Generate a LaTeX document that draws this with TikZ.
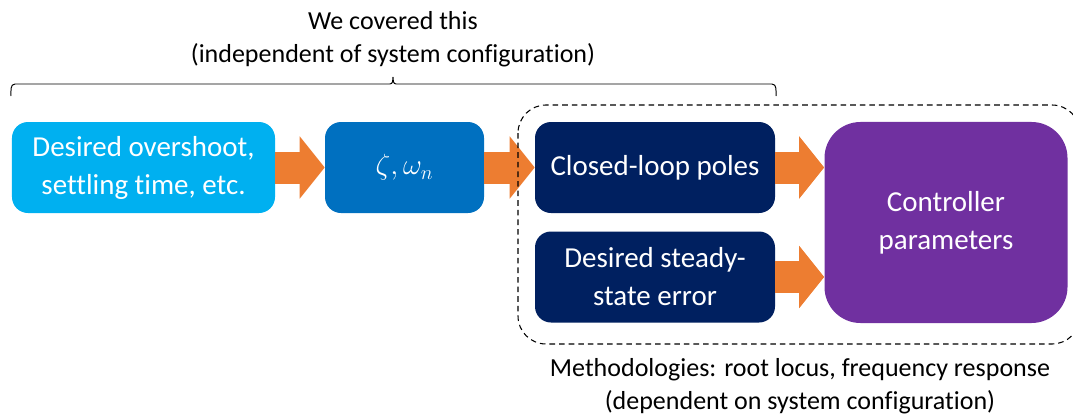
\documentclass[tikz,border=0pt]{standalone}
\usepackage{fontspec}
\setmainfont{Carlito}[Ligatures=NoCommon, RawFeature={-liga,-dlig}]
\usetikzlibrary{arrows.meta,positioning}
\definecolor{lightblue}{HTML}{00B0F0}
\definecolor{midblue}{HTML}{0070C0}
\definecolor{navy}{HTML}{002060}
\definecolor{violet}{HTML}{7030A0}
\definecolor{flow}{HTML}{ED7D31}
\tikzset{
  blk/.style={rounded corners=4mm, text=white, align=center, inner sep=0pt,
    minimum height=22.75mm, font=\fontsize{20.6}{27}\selectfont},
  fatarrow/.style={draw=flow, line width=8mm,
    -{Triangle[width=15.25mm,length=6.25mm]}},
  remark/.style={align=center, font=\fontsize{18.5}{23.5}\selectfont},
}
\begin{document}
\begin{tikzpicture}[x=0.25mm, y=-0.25mm]
  \useasboundingbox (0,0) rectangle (1073,414);
  % the chain of boxes
  \node[blk, fill=lightblue, minimum width=65.75mm] (spec) at (143.5,167.5)
    {Desired overshoot,\\settling time, etc.};
  \node[blk, fill=midblue, minimum width=39.75mm] (zeta) at (404.5,167.5)
    {$\zeta, \omega_n$};
  \node[blk, fill=navy, minimum width=60mm] (poles) at (655,167.5)
    {Closed-loop poles};
  \node[blk, fill=navy, minimum width=60mm] (sserr) at (655,277)
    {Desired steady-\\state error};
  \node[blk, fill=violet, rounded corners=9mm, minimum width=60.75mm,
    minimum height=50.25mm] (ctrl) at (946,222.5) {Controller\\parameters};
  % arrows
  \draw[fatarrow] (spec.east) -- (zeta.west);
  \draw[fatarrow] (zeta.east) -- (poles.west);
  \draw[fatarrow] (poles.east) -- (poles.east -| ctrl.west);
  \draw[fatarrow] (sserr.east) -- (sserr.east -| ctrl.west);
  % dashed group
  \draw[line width=0.75pt, dash pattern=on 1.4mm off 1mm,
    rounded corners=7mm] (518,105) rectangle (1080,344);
  % brace
  \coordinate (bl) at (11,96);
  \coordinate (br) at (776,96);
  \coordinate (bm) at (393,77);
  \draw[line width=0.7pt] (bl) to[out=90, in=180] (15,84) -- (390,84)
    to[out=0, in=-90] (bm) to[out=-90, in=180] (396,84) -- (772,84)
    to[out=0, in=90] (br);
  \node[remark] (covered) at (393,39)
    {We covered this\\(independent of system configuration)};
  \node[remark] (methods) at (800,386)
    {Methodologies: root locus, frequency response\\(dependent on system configuration)};
\end{tikzpicture}
\end{document}
